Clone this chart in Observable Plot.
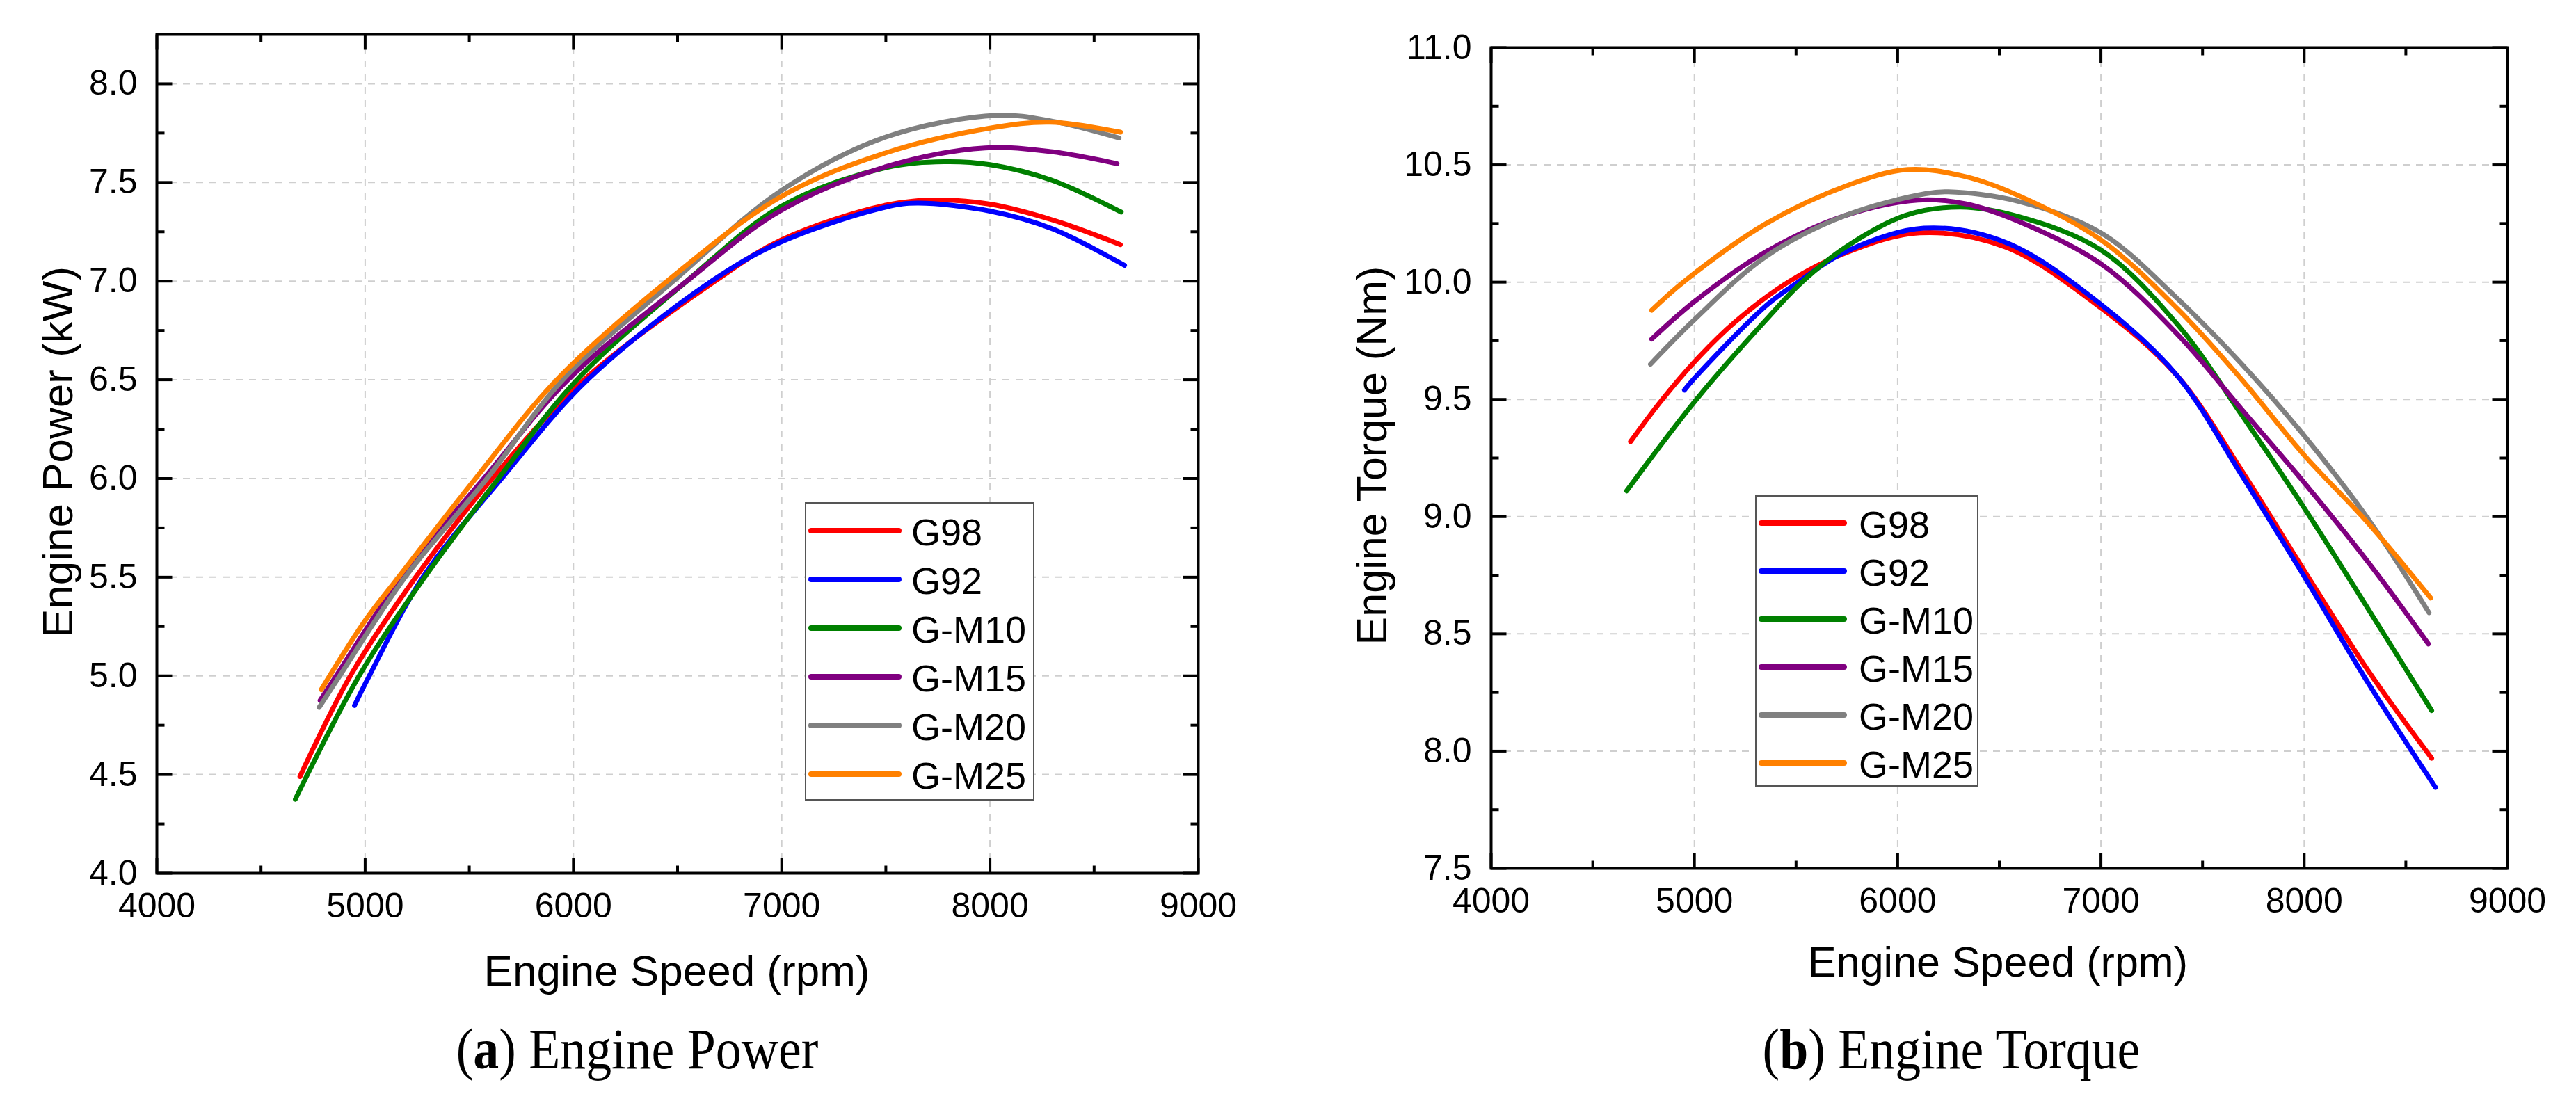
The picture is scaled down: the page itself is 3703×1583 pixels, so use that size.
<!DOCTYPE html>
<html><head><meta charset="utf-8">
<script src="https://cdn.jsdelivr.net/npm/d3@7"></script>
<script src="https://cdn.jsdelivr.net/npm/@observablehq/plot@0.6"></script>
<style>
body{margin:0;background:#fff;}
#fig{position:relative;width:3703px;height:1583px;background:#fff;overflow:hidden;font-family:"Liberation Sans",Arial,sans-serif;color:#000;}
.panel{position:absolute;top:0;}
.t{position:absolute;white-space:nowrap;color:#000;line-height:1;}
.ax{transform:translate(-50%,-50%);}
.axr{transform:translate(-50%,-50%) rotate(-90deg);}
.cap{font-family:"Liberation Serif","Times New Roman",serif;font-size:82px;transform:translate(-50%,-50%) scaleX(0.9);}
.leg{position:absolute;border:2px solid #555;background:#fff;box-sizing:border-box;}
.li{position:absolute;height:8px;border-radius:4px;transform:translateY(-50%);}
.lt{position:absolute;font-size:54px;line-height:1;transform:translateY(-50%);white-space:nowrap;}
</style></head><body><div id="fig"></div>
<script>
// ---------- series ----------
const SERIES = ["G98", "G92", "G-M10", "G-M15", "G-M20", "G-M25"];
const COLORS = ["#ff0000", "#0000ff", "#008000", "#800080", "#808080", "#ff8000"];

// ---------- (a) Engine Power (kW) ----------
const powerRpmG98  = [4687, 4929, 5243, 5610, 6051, 6680, 7000, 7500, 7750, 8000, 8300, 8626];
const powerG98     = [4.49, 5.0, 5.5, 6.0, 6.5, 7.0, 7.21, 7.385, 7.41, 7.39, 7.31, 7.185];
const powerRpmG92  = [4949, 5020, 5277, 5655, 6068, 6663, 7000, 7500, 7650, 8000, 8300, 8646];
const powerG92     = [4.85, 5.0, 5.5, 6.0, 6.5, 7.0, 7.2, 7.375, 7.395, 7.355, 7.265, 7.08];
const powerRpmGM10 = [4665, 4971, 5286, 5640, 6017, 6544, 7000, 7500, 7780, 8000, 8300, 8630];
const powerGM10    = [4.375, 5.0, 5.5, 6.0, 6.5, 7.0, 7.38, 7.575, 7.605, 7.59, 7.51, 7.35];
const powerRpmGM15 = [4784, 4861, 5175, 5570, 5974, 6544, 7000, 7500, 7976, 8300, 8610];
const powerGM15    = [4.876, 5.0, 5.5, 6.0, 6.5, 7.0, 7.36, 7.58, 7.675, 7.655, 7.595];
const powerRpmGM20 = [4779, 4878, 5192, 5585, 5949, 6480, 7000, 7500, 8035, 8300, 8620];
const powerGM20    = [4.84, 5.0, 5.5, 6.0, 6.5, 7.0, 7.46, 7.73, 7.84, 7.81, 7.725];
const powerRpmGM25 = [4789, 5000, 5160, 5530, 5920, 6450, 7000, 7500, 8000, 8290, 8626];
const powerGM25    = [4.93, 5.28, 5.5, 6.0, 6.5, 7.0, 7.43, 7.65, 7.775, 7.805, 7.755];

// ---------- (b) Engine Torque (Nm) ----------
const torqueRpmG98  = [4686, 4833, 5000, 5200, 5461, 5745, 6109, 6529, 7000, 7376, 7690, 8000, 8317, 8627];
const torqueG98     = [9.32, 9.49, 9.66, 9.83, 10.0, 10.125, 10.21, 10.15, 9.89, 9.6, 9.2, 8.77, 8.34, 7.97];
const torqueRpmG92  = [4951, 5000, 5353, 5510, 5745, 6129, 6529, 7000, 7376, 7690, 8000, 8317, 8646];
const torqueG92     = [9.54, 9.59, 9.9, 10.0, 10.13, 10.23, 10.17, 9.905, 9.6, 9.18, 8.745, 8.287, 7.845];
const torqueRpmGM10 = [4667, 5010, 5353, 5529, 5745, 6039, 6310, 6592, 7000, 7376, 7690, 8000, 8317, 8627];
const torqueGM10    = [9.11, 9.5, 9.84, 10.0, 10.15, 10.285, 10.32, 10.28, 10.137, 9.82, 9.437, 9.037, 8.603, 8.173];
const torqueRpmGM15 = [4790, 5000, 5353, 5745, 6100, 6333, 6592, 7000, 7376, 7690, 8000, 8317, 8611];
const torqueGM15    = [9.757, 9.917, 10.13, 10.285, 10.35, 10.334, 10.26, 10.078, 9.778, 9.46, 9.145, 8.803, 8.457];
const torqueRpmGM20 = [4784, 5000, 5353, 5745, 6137, 6250, 6592, 7000, 7376, 7690, 8000, 8317, 8614];
const torqueGM20    = [9.65, 9.84, 10.11, 10.285, 10.377, 10.385, 10.345, 10.21, 9.93, 9.653, 9.345, 8.987, 8.59];
const torqueRpmGM25 = [4790, 4945, 5353, 5745, 6050, 6333, 6592, 7000, 7376, 7690, 8000, 8317, 8622];
const torqueGM25    = [9.88, 10.0, 10.25, 10.41, 10.48, 10.45, 10.37, 10.18, 9.887, 9.587, 9.262, 8.97, 8.653];

// ---------- ticks ----------
const xMajor = [4000, 5000, 6000, 7000, 8000, 9000];
const xMinor = [4500, 5500, 6500, 7500, 8500];
const powerMajor = [4.0, 4.5, 5.0, 5.5, 6.0, 6.5, 7.0, 7.5, 8.0];
const powerMinor = [4.25, 4.75, 5.25, 5.75, 6.25, 6.75, 7.25, 7.75];
const torqueMajor = [7.5, 8.0, 8.5, 9.0, 9.5, 10.0, 10.5, 11.0];
const torqueMinor = [7.75, 8.25, 8.75, 9.25, 9.75, 10.25, 10.75];

function rowsOf(rpmLists, valLists) {
  const rows = [];
  SERIES.forEach((s, i) => rpmLists[i].forEach((r, j) => rows.push({s, rpm: r, v: valLists[i][j]})));
  return rows;
}
const powerRows = rowsOf(
  [powerRpmG98, powerRpmG92, powerRpmGM10, powerRpmGM15, powerRpmGM20, powerRpmGM25],
  [powerG98, powerG92, powerGM10, powerGM15, powerGM20, powerGM25]);
const torqueRows = rowsOf(
  [torqueRpmG98, torqueRpmG92, torqueRpmGM10, torqueRpmGM15, torqueRpmGM20, torqueRpmGM25],
  [torqueG98, torqueG92, torqueGM10, torqueGM15, torqueGM20, torqueGM25]);

const tickSym = (dx, dy) => ({draw(ctx) { ctx.moveTo(0, 0); ctx.lineTo(dx, dy); }});

function panel(rows, yDomain, yMajor, yMinor, o) {
  const tk = (data, chan, anchor, sym) => Plot.dot(data, {
    [chan]: d => d, frameAnchor: anchor, symbol: sym,
    stroke: "black", strokeWidth: 4, fill: "none"
  });
  const big = 22, small = 11;
  return Plot.plot({
    width: o.width, height: o.height,
    marginLeft: o.ml, marginRight: o.mr, marginTop: o.mt, marginBottom: o.mb,
    style: {fontFamily: '"Liberation Sans", Arial, sans-serif', fontSize: "50px", color: "black", background: "white", maxWidth: "none", overflow: "visible"},
    x: {domain: [4000, 9000], ticks: xMajor, tickFormat: d3.format("d"), tickSize: 0, tickPadding: 28, label: null},
    y: {domain: yDomain, ticks: yMajor, tickFormat: d3.format(".1f"), tickSize: 0, tickPadding: 28, label: null},
    color: {domain: SERIES, range: COLORS},
    marks: [
      Plot.ruleX(xMajor, {x: d => d, stroke: "#cfcfcf", strokeWidth: 2, strokeDasharray: "10,9"}),
      Plot.ruleY(yMajor, {y: d => d, stroke: "#cfcfcf", strokeWidth: 2, strokeDasharray: "10,9"}),
      Plot.line(rows, {x: "rpm", y: "v", z: "s", stroke: "s", strokeWidth: 7, strokeLinecap: "round", strokeLinejoin: "round", curve: "catmull-rom"}),
      tk(xMajor, "x", "bottom", tickSym(0, -big)),
      tk(xMinor, "x", "bottom", tickSym(0, -small)),
      tk(xMajor, "x", "top", tickSym(0, big)),
      tk(xMinor, "x", "top", tickSym(0, small)),
      tk(yMajor, "y", "left", tickSym(big, 0)),
      tk(yMinor, "y", "left", tickSym(small, 0)),
      tk(yMajor, "y", "right", tickSym(-big, 0)),
      tk(yMinor, "y", "right", tickSym(-small, 0)),
      Plot.frame({stroke: "black", strokeWidth: 4})
    ]
  });
}

const fig = document.getElementById("fig");
function place(el, left) {
  const d = document.createElement("div");
  d.className = "panel"; d.style.left = left + "px";
  d.appendChild(el); fig.appendChild(d);
}
place(panel(powerRows, [4, 8.25], powerMajor, powerMinor, {width: 1800, height: 1350, ml: 225, mr: 78, mt: 49, mb: 95}), 0);
place(panel(torqueRows, [7.5, 11], torqueMajor, torqueMinor, {width: 1853, height: 1350, ml: 293, mr: 99, mt: 68, mb: 102}), 1850);

function text(html, cls, x, y, size) {
  const d = document.createElement("div");
  d.className = "t " + cls; d.innerHTML = html;
  d.style.left = x + "px"; d.style.top = y + "px";
  if (size) d.style.fontSize = size + "px";
  fig.appendChild(d);
}
text("Engine Power (kW)", "axr", 83, 650, 62);
text("Engine Speed (rpm)", "ax", 973, 1396, 62);
text("Engine Torque (Nm)", "axr", 1972, 655, 61);
text("Engine Speed (rpm)", "ax", 2872, 1383, 61);
text("(<b>a</b>) Engine Power", "cap", 916, 1509);
text("(<b>b</b>) Engine Torque", "cap", 2805, 1509);

function legend(box, lineX0, lineX1, textX, rowY0, rowStep) {
  const b = document.createElement("div");
  b.className = "leg";
  Object.assign(b.style, {left: box[0] + "px", top: box[1] + "px", width: (box[2] - box[0]) + "px", height: (box[3] - box[1]) + "px"});
  fig.appendChild(b);
  SERIES.forEach((s, i) => {
    const y = rowY0 + i * rowStep;
    const l = document.createElement("div");
    l.className = "li";
    Object.assign(l.style, {left: lineX0 + "px", top: y + "px", width: (lineX1 - lineX0) + "px", background: COLORS[i]});
    fig.appendChild(l);
    const t = document.createElement("div");
    t.className = "lt"; t.textContent = s;
    Object.assign(t.style, {left: textX + "px", top: (y + 2) + "px"});
    fig.appendChild(t);
  });
}
legend([1157, 722, 1487, 1151], 1162, 1296, 1310, 763, 70);
legend([2523, 712, 2844, 1131], 2528, 2655, 2672, 752, 69);
</script></body></html>
